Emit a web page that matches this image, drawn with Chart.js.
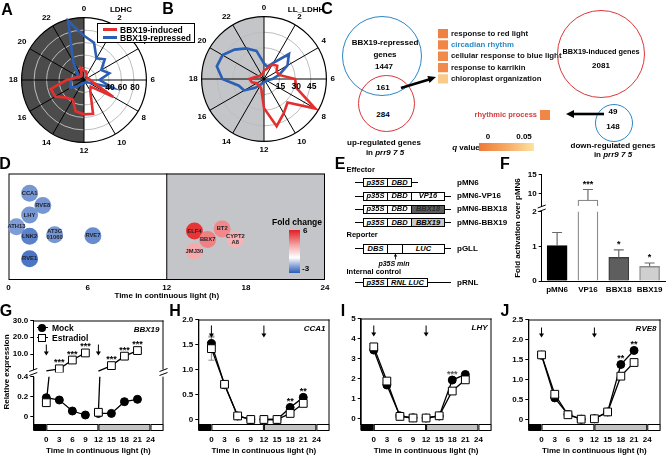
<!DOCTYPE html>
<html>
<head>
<meta charset="utf-8">
<script src="https://cdn.jsdelivr.net/npm/chart.js@4.4.1/dist/chart.umd.min.js"></script>
<style>
  body { margin: 0; background: #fff; }
  #fig { position: relative; width: 667px; height: 456px; overflow: hidden; font-family: "Liberation Sans", Arial, sans-serif; font-weight: bold; color: #000; }
  #fig canvas { position: absolute; }
  .t { position: absolute; transform: translate(-50%, -50%); white-space: nowrap; font-size: 8px; line-height: 1; }
  .l { position: absolute; transform: translateY(-50%); white-space: nowrap; font-size: 8px; line-height: 1; }
  .r { position: absolute; transform: translate(-100%, -50%); white-space: nowrap; font-size: 8px; line-height: 1; z-index: 5; }
  .big { font-size: 16px; }
  .ring { position: absolute; border-radius: 50%; box-sizing: border-box; border: 1.5px solid; }
  .ln { position: absolute; height: 0; border-top: 1px solid #000; }
  .bx { position: absolute; box-sizing: border-box; border: 1px solid #000; background: #fff; font-style: italic; font-size: 7.5px; display: flex; align-items: center; justify-content: center; line-height: 1; }
  .it { font-style: italic; }
</style>
</head>
<body>
<div id="fig">
  <!-- charts -->
  <canvas id="radarA" width="159" height="152" style="left:3px;top:4px"></canvas>
  <canvas id="radarB" width="158" height="152" style="left:183px;top:3px"></canvas>
  <canvas id="goChart" width="231" height="60" style="left:436px;top:26px"></canvas>
  <canvas id="rhythmChart" width="82" height="18" style="left:470px;top:106px"></canvas>
  <canvas id="dChart" width="335" height="136" style="left:0;top:165px"></canvas>
  <canvas id="fHigh" width="162" height="44" style="left:505px;top:168px"></canvas>
  <canvas id="fLow" width="162" height="95" style="left:505px;top:205px"></canvas>
  <canvas id="gLow" width="170" height="86" style="left:0;top:370px"></canvas>
  <canvas id="gHigh" width="170" height="62" style="left:0;top:314px"></canvas>
  <canvas id="hChart" width="168" height="143" style="left:168px;top:313px"></canvas>
  <canvas id="iChart" width="162" height="144" style="left:336px;top:312px"></canvas>
  <canvas id="jChart" width="167" height="143" style="left:500px;top:313px"></canvas>

  <!-- panel letters -->
  <div class="t big" style="left:7px;top:10px">A</div>
  <div class="t big" style="left:168px;top:9px">B</div>
  <div class="t big" style="left:327px;top:9px">C</div>
  <div class="t big" style="left:5px;top:164px">D</div>
  <div class="t big" style="left:340px;top:164px">E</div>
  <div class="t big" style="left:505px;top:164px">F</div>
  <div class="t big" style="left:6px;top:311px">G</div>
  <div class="t big" style="left:175px;top:311px">H</div>
  <div class="t big" style="left:343px;top:311px">I</div>
  <div class="t big" style="left:505px;top:311px">J</div>

  <!-- A / B -->
  <div class="t" style="left:121px;top:10px">LDHC</div>
  <div class="t" style="left:306px;top:10px">LL_LDHH</div>
  <div style="position:absolute;left:97px;top:23px;width:98px;height:20px;border:1px solid #000;background:#fff;box-sizing:border-box"></div>
  <div style="position:absolute;left:103px;top:28px;width:14px;height:3px;background:#e3302f"></div>
  <div class="l" style="left:120px;top:29.5px;font-size:8.5px">BBX19-induced</div>
  <div style="position:absolute;left:103px;top:36px;width:14px;height:3px;background:#2b5fb3"></div>
  <div class="l" style="left:120px;top:37.5px;font-size:8.5px">BBX19-repressed</div>

  <!-- C -->
  <div class="ring" style="left:342px;top:16px;width:80px;height:80px;border-color:#2b87c4"></div>
  <div class="ring" style="left:357.5px;top:74.5px;width:57px;height:57px;border-color:#d8373a"></div>
  <div class="ring" style="left:557px;top:10px;width:88px;height:88px;border-color:#d8373a"></div>
  <div class="ring" style="left:595px;top:104px;width:38px;height:38px;border-color:#2b87c4"></div>
  <div class="t" style="left:385px;top:43px">BBX19-repressed</div>
  <div class="t" style="left:385px;top:55px">genes</div>
  <div class="t" style="left:384px;top:66.5px">1447</div>
  <div class="t" style="left:383px;top:88px">161</div>
  <div class="t" style="left:383px;top:115px">284</div>
  <div class="t" style="left:384px;top:143px">up-regulated genes</div>
  <div class="t" style="left:385px;top:153px">in <span class="it">prr9 7 5</span></div>
  <div class="t" style="left:601px;top:52px;font-size:7.3px">BBX19-induced genes</div>
  <div class="t" style="left:601px;top:66px">2081</div>
  <div class="t" style="left:613px;top:112px">49</div>
  <div class="t" style="left:613px;top:127px">148</div>
  <div class="t" style="left:613px;top:145.5px">down-regulated genes</div>
  <div class="t" style="left:613px;top:155px">in <span class="it">prr9 7 5</span></div>
  <div class="t" style="left:488px;top:137px">0</div>
  <div class="t" style="left:524px;top:137px">0.05</div>
  <div class="t" style="left:466px;top:147.5px"><span class="it">q</span> value</div>
  <div style="position:absolute;left:479px;top:143px;width:55px;height:8px;background:linear-gradient(to right,#ee7a3a,#f6aa62,#fde3a2)"></div>
  <svg style="position:absolute;left:0;top:0" width="667" height="456">
    <line x1="401" y1="88" x2="429" y2="79.5" stroke="#000" stroke-width="2.6"/>
    <polygon points="436,77 429.4,82.9 427.4,75.9" fill="#000"/>
    <line x1="604" y1="114" x2="573" y2="114" stroke="#000" stroke-width="2.6"/>
    <polygon points="566,114 574,110 574,118" fill="#000"/>
    <line x1="395.5" y1="255" x2="395.5" y2="259.5" stroke="#000" stroke-width="0.8"/>
    <polygon points="395.5,253.5 393.8,256.5 397.2,256.5" fill="#000"/>
  </svg>

  <!-- D legend -->
  <div class="t" style="left:297px;top:222px;font-size:8.5px">Fold change</div>
  <div style="position:absolute;left:289px;top:230px;width:11px;height:43px;background:linear-gradient(to bottom,#e41d24 0%,#f4a3a5 35%,#ffffff 64%,#9db4de 80%,#2a5cb8 100%)"></div>
  <div class="l" style="left:303px;top:231px">6</div>
  <div class="l" style="left:302px;top:269px">-3</div>

  <!-- E -->
  <div class="l" style="left:346.5px;top:170px;font-size:7.5px">Effector</div>
  <div class="ln" style="left:354.5px;top:182px;width:63px"></div>
  <div class="bx" style="left:363px;top:178px;width:25px;height:9px">p35S</div>
  <div class="bx" style="left:387px;top:178px;width:25px;height:9px">DBD</div>
  <div class="l" style="left:457px;top:182.5px">pMN6</div>

  <div class="ln" style="left:354.5px;top:195.5px;width:96px"></div>
  <div class="bx" style="left:363px;top:191.5px;width:25px;height:9px">p35S</div>
  <div class="bx" style="left:387px;top:191.5px;width:25px;height:9px">DBD</div>
  <div class="bx" style="left:411px;top:191.5px;width:34px;height:9px">VP16</div>
  <div class="l" style="left:457px;top:196px">pMN6-VP16</div>

  <div class="ln" style="left:354.5px;top:208.5px;width:96px"></div>
  <div class="bx" style="left:363px;top:204.5px;width:25px;height:9px">p35S</div>
  <div class="bx" style="left:387px;top:204.5px;width:25px;height:9px">DBD</div>
  <div class="bx" style="left:411px;top:204.5px;width:34px;height:9px;background:#5b5b5b;color:#2a2a2a">BBX18</div>
  <div class="l" style="left:457px;top:209px">pMN6-BBX18</div>

  <div class="ln" style="left:354.5px;top:222px;width:96px"></div>
  <div class="bx" style="left:363px;top:218px;width:25px;height:9px">p35S</div>
  <div class="bx" style="left:387px;top:218px;width:25px;height:9px">DBD</div>
  <div class="bx" style="left:411px;top:218px;width:34px;height:9px;background:#c9c9c9">BBX19</div>
  <div class="l" style="left:457px;top:222.5px">pMN6-BBX19</div>

  <div class="l" style="left:346.5px;top:235px;font-size:7.5px">Reporter</div>
  <div class="ln" style="left:354.5px;top:248px;width:96px"></div>
  <div class="bx" style="left:363px;top:243.5px;width:25px;height:10px">DBS</div>
  <div class="bx" style="left:387px;top:243.5px;width:16px;height:10px"></div>
  <div class="bx" style="left:402px;top:243.5px;width:43px;height:10px">LUC</div>
  <div class="l" style="left:457px;top:248.5px">pGLL</div>
  <div class="t it" style="left:394px;top:263px;font-size:7px">p35S min</div>

  <div class="l" style="left:346.5px;top:272px;font-size:7.5px">Internal control</div>
  <div class="ln" style="left:354.5px;top:282px;width:96px"></div>
  <div class="bx" style="left:363px;top:278px;width:25px;height:9px">p35S</div>
  <div class="bx" style="left:387px;top:278px;width:41px;height:9px">RNL LUC</div>
  <div class="l" style="left:457px;top:282.5px">pRNL</div>

  <!-- F -->
  <div class="t" style="left:518px;top:228px;transform:translate(-50%,-50%) rotate(-90deg)">Fold activation over pMN6</div>

  <!-- G legend / label -->
  <div class="t" style="left:7px;top:372px;transform:translate(-50%,-50%) rotate(-90deg)">Relative expression</div>
  <div class="ln" style="left:36.5px;top:327px;width:11px"></div>
  <div style="position:absolute;left:38px;top:323.5px;width:8px;height:8px;border-radius:50%;background:#000"></div>
  <div class="l" style="left:52px;top:327.5px;font-size:8.5px">Mock</div>
  <div class="ln" style="left:36.5px;top:337px;width:11px"></div>
  <div style="position:absolute;left:38px;top:333.5px;width:8px;height:8px;background:#fff;border:1px solid #000;box-sizing:border-box"></div>
  <div class="l" style="left:52px;top:337.5px;font-size:8.5px">Estradiol</div>
</div>

<script>
// ---------- data ----------
// A, B: phase distribution (hour of day)
const hourLabels = ['0','1','2','3','4','5','6','7','8','9','10','11','12','13','14','15','16','17','18','19','20','21','22','23'];
const nightHours = [12, 24];
const ldhcInduced   = [15, 14, 8, 6, 6, 8, 10, 15, 54, 15, 20, 56, 55, 52, 36, 40, 53, 55, 28, 14, 10, 8, 8, 20];
const ldhcRepressed = [71, 62, 40, 47, 32, 42, 25, 48, 8, 5, 5, 5, 5, 5, 8, 15, 25, 22, 22, 15, 12, 15, 35, 98];
const llInduced     = [8, 10, 16, 18, 14, 15, 30, 32, 57, 32, 38, 47, 28, 10, 8, 8, 8, 12, 14, 8, 5, 5, 5, 5];
const llRepressed   = [15, 12, 18, 34, 26, 15, 8, 4, 3, 3, 3, 3, 3, 4, 6, 12, 22, 25, 40, 47, 46, 40, 34, 28];
const ldhcRings = [40, 60, 80];
const llRings = [15, 30, 45];

// C: GO enrichment
const goTerms = ['response to red light', 'circadian rhythm', 'cellular response to blue light', 'response to karrikin', 'chloroplast organization'];
const goQ = [0.004, 0.006, 0.007, 0.008, 0.038];
const goCell = [1, 1, 1, 1, 1];
const rhythmTerm = ['rhythmic process'];
const rhythmQ = [0.006];
const rhythmCell = [1];

// D: genes by peak time
const fcGenes = ['CCA1', 'RVE8', 'LHY', 'ATH13', 'LNK2', 'AT3G\n01060', 'RVE7', 'RVE1', 'ELF4', 'BT2', 'BBX7', 'CYPT2\nA8', 'JMJ30'];
const fcTime  = [1.6, 2.6, 1.6, 0.6, 1.6, 3.5, 6.4, 1.6, 14.1, 16.2, 15.1, 17.2, 14.1];
const fcLevel = [81.5, 70, 61, 50, 41, 42.5, 41.5, 20, 46, 48, 38, 38, 27];
const fcFold  = [-1.9, -1.9, -1.9, -1.8, -2.3, -1.9, -2.1, -2.5, 5.3, 3.1, 3.3, 2.0, 2.2];
const dTicks = [0, 6, 12, 18, 24];
const dShade = [12, 24];

// F: transactivation
const constructs = ['pMN6', 'VP16', 'BBX18', 'BBX19'];
const foldAct = [1.02, 8.2, 0.68, 0.42];
const foldErr = [0.38, 2.8, 0.22, 0.1];
const foldStars = ['', '***', '*', '*'];
const fLowTicks = [0, 1, 2];
const fLowLabels = ['0', '1', '2'];
const fHighTicks = [10, 15];
const fHighLabels = ['10', '15'];

// G-J: time courses (two 9-h runs, after each treatment at 0 h and 12 h)
const timePoints = [0, 3, 6, 9, 12, 15, 18, 21];
const runBreakAfter = 3;                 // no line between 9 h and 12 h
const timeTicks = [0, 3, 6, 9, 12, 15, 18, 21, 24];
const ldSpans = [-3, 0, 12, 24, 27];
const ldShades = ['#000', '#fff', '#c4c4c4', '#fff'];
const treatTimes = [0, 12];

const bbx19Mock = [0.19, 0.167, 0.057, 0.017, 0.033, 0.033, 0.15, 0.174];
const bbx19Estr = [0.14, 1.4, 6.6, 10.8, 0.044, 3.3, 8.9, 12.2];
const bbx19MockErr = [0.02, 0.01, 0.01, 0.005, 0.005, 0.005, 0.01, 0.01];
const bbx19EstrErr = [0.02, 0.2, 0.4, 0.5, 0.005, 0.3, 0.4, 0.5];
const bbx19Stars = ['', '***', '***', '***', '', '***', '***', '***'];
const bbx19HighTicks = [10, 20, 30];
const bbx19HighLabels = ['10.0', '20.0', '30.0'];
const bbx19LowTicks = [0, 0.2, 0.4];
const bbx19LowLabels = ['0', '0.2', '0.4'];

const cca1Mock = [1.52, 0.70, 0.08, 0.01, 0.01, 0.01, 0.25, 0.45];
const cca1Estr = [1.42, 0.71, 0.08, 0.01, 0.01, 0.01, 0.13, 0.33];
const cca1MockErr = [0.15, 0.03, 0.01, 0, 0, 0, 0.02, 0.03];
const cca1EstrErr = [0.23, 0.03, 0.01, 0, 0, 0, 0.02, 0.03];
const cca1Stars = ['', '', '', '', '', '', '**', '**'];
const cca1Ticks = [0, 0.5, 1, 1.5, 2];
const cca1Labels = ['0', '0.5', '1.0', '1.5', '2.0'];

const lhyMock = [3.42, 1.67, 0.13, 0.03, 0.02, 0.12, 1.92, 2.2];
const lhyEstr = [3.58, 1.87, 0.10, 0.02, 0.02, 0.13, 1.37, 1.93];
const lhyMockErr = [0.1, 0.06, 0.02, 0, 0, 0.02, 0.06, 0.06];
const lhyEstrErr = [0.15, 0.06, 0.02, 0, 0, 0.02, 0.06, 0.06];
const lhyStars = ['', '', '', '', '', '', '***', ''];
const lhyTicks = [0, 1, 2, 3, 4, 5];
const lhyLabels = ['0', '1', '2', '3', '4', '5'];

const rve8Mock = [1.61, 0.55, 0.14, 0.02, 0.03, 0.2, 1.38, 1.73];
const rve8Estr = [1.62, 0.64, 0.13, 0.02, 0.03, 0.2, 1.09, 1.43];
const rve8MockErr = [0.04, 0.03, 0.01, 0, 0, 0.02, 0.04, 0.04];
const rve8EstrErr = [0.04, 0.03, 0.01, 0, 0, 0.02, 0.04, 0.04];
const rve8Stars = ['', '', '', '', '', '', '**', '**'];
const rve8Ticks = [0, 0.5, 1, 1.5, 2, 2.5];
const rve8Labels = ['0', '0.5', '1.0', '1.5', '2.0', '2.5'];

// ---------- setup ----------
const FONT = '"Liberation Sans", Arial, sans-serif';
const f = (size, style) => ({ family: FONT, size: size, weight: 'bold', style: style || 'normal' });
Chart.defaults.font.family = FONT;
Chart.defaults.font.weight = 'bold';
Chart.defaults.color = '#000';
Chart.defaults.animation = false;
Chart.defaults.responsive = false;
Chart.defaults.plugins.legend.display = false;
Chart.defaults.plugins.tooltip.enabled = false;
const el = id => document.getElementById(id);

// fixed axis sizes, no extra room for overhanging tick labels
const fixY = w => s => { s.width = w; s.paddingTop = 0; s.paddingBottom = 0; };
const fixX = h => s => { if (h !== null) s.height = h; s.paddingLeft = 0; s.paddingRight = 0; };

function mix(c1, c2, t) {
  const r = Math.round(c1[0] + (c2[0] - c1[0]) * t);
  const g = Math.round(c1[1] + (c2[1] - c1[1]) * t);
  const b = Math.round(c1[2] + (c2[2] - c1[2]) * t);
  return 'rgb(' + r + ',' + g + ',' + b + ')';
}
const qColor = q => mix([238, 122, 58], [253, 227, 162], Math.min(q / 0.05, 1));
const foldColor = v => v < 0 ? mix([255, 255, 255], [40, 90, 185], Math.min(-v / 3, 1))
                             : mix([255, 255, 255], [228, 26, 28], Math.min(v / 6, 1));

// ---------- A / B radar ----------
function radarDeco(shade, rings) {
  return {
    id: 'radarDeco',
    beforeDraw(chart) {
      const s = chart.scales.r, ctx = chart.ctx;
      const a0 = -Math.PI / 2 + nightHours[0] / 24 * 2 * Math.PI;
      const a1 = -Math.PI / 2 + nightHours[1] / 24 * 2 * Math.PI;
      ctx.save();
      ctx.fillStyle = shade;
      ctx.beginPath();
      ctx.moveTo(s.xCenter, s.yCenter);
      ctx.arc(s.xCenter, s.yCenter, s.drawingArea, a0, a1);
      ctx.closePath();
      ctx.fill();
      ctx.restore();
    },
    afterDraw(chart) {
      const s = chart.scales.r, ctx = chart.ctx;
      ctx.save();
      ctx.font = 'bold 8.5px ' + FONT;
      ctx.fillStyle = '#000';
      ctx.textAlign = 'center';
      ctx.textBaseline = 'middle';
      rings.forEach(v => ctx.fillText(String(v), s.xCenter + s.getDistanceFromCenterForValue(v) + 1, s.yCenter + 8));
      ctx.restore();
    }
  };
}

function makeRadar(id, induced, repressed, rMax, rStep, rings, shade) {
  new Chart(el(id), {
    type: 'radar',
    data: {
      labels: hourLabels,
      datasets: [
        { label: 'BBX19-induced', data: induced, borderColor: '#e3302f', borderWidth: 2.6, pointRadius: 0, fill: false },
        { label: 'BBX19-repressed', data: repressed, borderColor: '#2b5fb3', borderWidth: 2.6, pointRadius: 0, fill: false }
      ]
    },
    options: {
      layout: { padding: 0 },
      scales: {
        r: {
          min: 0, max: rMax,
          ticks: { display: false, stepSize: rStep },
          grid: { circular: true, color: c => c.tick.value === rMax ? '#000' : '#bdbdbd', lineWidth: c => c.tick.value === rMax ? 1.2 : 1 },
          angleLines: { color: c => c.index % 2 === 0 ? '#000' : 'rgba(0,0,0,0)', lineWidth: 1 },
          pointLabels: { font: f(8), color: '#000', padding: 4, callback: (lab, i) => i % 2 === 0 ? lab : '' }
        }
      }
    },
    plugins: [radarDeco(shade, rings)]
  });
}
makeRadar('radarA', ldhcInduced, ldhcRepressed, 100, 20, ldhcRings, '#4b4b4b');
makeRadar('radarB', llInduced, llRepressed, 60, 15, llRings, '#c3c5c9');

// ---------- C: GO cells ----------
new Chart(el('goChart'), {
  type: 'bar',
  data: { labels: goTerms, datasets: [{ data: goCell, backgroundColor: goQ.map(qColor), barPercentage: 0.82, categoryPercentage: 1 }] },
  options: {
    indexAxis: 'y',
    layout: { padding: { left: 2, top: 2, bottom: 1.5, right: 0 } },
    scales: {
      x: { display: false, min: 0, max: 1 },
      y: {
        position: 'right',
        afterFit: fixY(219),
        grid: { display: false, drawTicks: false },
        border: { display: false },
        ticks: { font: f(7.8), padding: 3, autoSkip: false, color: c => c.index === 1 ? '#2c8bc7' : '#111' }
      }
    }
  }
});

new Chart(el('rhythmChart'), {
  type: 'bar',
  data: { labels: rhythmTerm, datasets: [{ data: rhythmCell, backgroundColor: rhythmQ.map(qColor), barPercentage: 1, categoryPercentage: 1 }] },
  options: {
    indexAxis: 'y',
    layout: { padding: { left: 0, top: 4, bottom: 4, right: 2 } },
    scales: {
      x: { display: false, min: 0, max: 1 },
      y: {
        afterFit: fixY(70),
        grid: { display: false, drawTicks: false },
        border: { display: false },
        ticks: { font: f(7.5), padding: 3, color: '#d6393b' }
      }
    }
  }
});

// ---------- D: bubbles ----------
const dDeco = {
  id: 'dDeco',
  beforeDatasetsDraw(chart) {
    const { ctx, chartArea: a, scales: { x } } = chart;
    const x0 = x.getPixelForValue(dShade[0]), x1 = x.getPixelForValue(dShade[1]);
    ctx.save();
    ctx.fillStyle = '#c3c5c8';
    ctx.fillRect(x0, a.top, x1 - x0, a.bottom - a.top);
    ctx.strokeStyle = '#000';
    ctx.lineWidth = 1;
    ctx.strokeRect(a.left + 0.5, a.top + 0.5, a.width - 1, a.height - 1);
    ctx.beginPath(); ctx.moveTo(x0, a.top); ctx.lineTo(x0, a.bottom); ctx.stroke();
    ctx.restore();
  },
  afterDatasetsDraw(chart) {
    const ctx = chart.ctx, meta = chart.getDatasetMeta(0);
    ctx.save();
    ctx.font = 'bold 5.8px ' + FONT;
    ctx.fillStyle = '#1e1e2a';
    ctx.textAlign = 'center';
    ctx.textBaseline = 'middle';
    meta.data.forEach((pt, i) => {
      const lines = fcGenes[i].split('\n');
      lines.forEach((s, k) => ctx.fillText(s, pt.x, pt.y + (k - (lines.length - 1) / 2) * 6));
    });
    ctx.restore();
  }
};
new Chart(el('dChart'), {
  type: 'bubble',
  data: { datasets: [{ data: fcGenes.map((g, i) => ({ x: fcTime[i], y: fcLevel[i], r: 8.5 })), backgroundColor: fcFold.map(foldColor), borderWidth: 0, clip: false }] },
  options: {
    layout: { padding: { top: 6.7, left: 8.5, right: 10, bottom: 0 } },
    scales: {
      x: {
        type: 'linear', min: 0, max: 24,
        afterBuildTicks: s => { s.ticks = dTicks.map(v => ({ value: v })); },
        afterFit: fixX(21),
        grid: { display: false, drawTicks: false },
        border: { display: false },
        ticks: { font: f(8), padding: 3 },
        title: { display: true, text: 'Time in continuous light (h)', font: f(8), padding: 0 }
      },
      y: { display: false, min: 0, max: 100 }
    }
  },
  plugins: [dDeco]
});

// ---------- F: broken-axis bars ----------
function fDeco(brk) {
  return {
    id: 'fDeco',
    afterDatasetsDraw(chart) {
      const { ctx, chartArea: a, scales: { x, y } } = chart;
      ctx.save();
      ctx.beginPath(); ctx.rect(a.left, a.top - 1, a.width, a.height + 1); ctx.clip();
      ctx.strokeStyle = '#6a6a6a'; ctx.lineWidth = 1.2;
      foldAct.forEach((v, i) => {
        const px = x.getPixelForValue(i), y0 = y.getPixelForValue(v), y1 = y.getPixelForValue(v + foldErr[i]);
        ctx.beginPath();
        ctx.moveTo(px, y0); ctx.lineTo(px, y1);
        ctx.moveTo(px - 5, y1); ctx.lineTo(px + 5, y1);
        ctx.stroke();
      });
      ctx.restore();
      ctx.save();
      ctx.font = 'bold 9px ' + FONT; ctx.fillStyle = '#000'; ctx.textAlign = 'center'; ctx.textBaseline = 'middle';
      foldAct.forEach((v, i) => {
        const top = v + foldErr[i];
        if (foldStars[i] && top >= y.min && top <= y.max) ctx.fillText(foldStars[i], x.getPixelForValue(i), y.getPixelForValue(top) - 5);
      });
      if (brk) {
        ctx.strokeStyle = '#000'; ctx.lineWidth = 1;
        ctx.beginPath();
        ctx.moveTo(a.left - 4, a.bottom + 2); ctx.lineTo(a.left + 4, a.bottom - 1);
        ctx.moveTo(a.left - 4, a.bottom + 6); ctx.lineTo(a.left + 4, a.bottom + 3);
        ctx.stroke();
      }
      ctx.restore();
    }
  };
}
function fChart(id, yMin, yMax, ticks, labels, showX, pad, brk) {
  new Chart(el(id), {
    type: 'bar',
    data: {
      labels: constructs,
      datasets: [{
        data: foldAct,
        backgroundColor: ['#000', '#fff', '#5e5e5e', '#cfcfcf'],
        borderColor: ['#000', '#8a8a8a', '#3c3c3c', '#8a8a8a'],
        borderWidth: 1.3, borderSkipped: 'bottom', barThickness: 20, clip: 0
      }]
    },
    options: {
      layout: { padding: pad },
      scales: {
        x: {
          display: showX,
          afterFit: fixX(showX ? 19 : null),
          grid: { display: false, drawTicks: false },
          border: { display: true, color: '#000' },
          ticks: { font: f(8), padding: 4, autoSkip: false, minRotation: 0, maxRotation: 0 }
        },
        y: {
          min: yMin, max: yMax,
          afterBuildTicks: s => { s.ticks = ticks.map(v => ({ value: v })); },
          afterFit: fixY(36.7),
          grid: { drawOnChartArea: false, color: '#000', tickLength: 3 },
          border: { display: true, color: '#000' },
          ticks: { font: f(8), padding: 2, callback: (v, i) => labels[i] }
        }
      }
    },
    plugins: [fDeco(brk)]
  });
}
fChart('fHigh', 6.66, 15, fHighTicks, fHighLabels, false, { top: 6.3, bottom: 6, left: 0, right: 2 }, true);
fChart('fLow', 0, 2, fLowTicks, fLowLabels, true, { top: 6.7, bottom: 0, left: 0, right: 2 }, false);

// ---------- G-J: time courses ----------
function exprDeco(o) {
  return {
    id: 'exprDeco',
    beforeDatasetsDraw(chart) {
      const { ctx, chartArea: a, scales: { x, y } } = chart;
      ctx.save();
      ctx.beginPath(); ctx.rect(a.left, a.top, a.width, a.height); ctx.clip();
      ctx.strokeStyle = '#888'; ctx.lineWidth = 1;
      [[o.mock, o.mockErr], [o.estr, o.estrErr]].forEach(pair => {
        pair[0].forEach((v, i) => {
          const e = pair[1][i];
          if (!e) return;
          const px = x.getPixelForValue(timePoints[i]);
          const y0 = y.getPixelForValue(v - e), y1 = y.getPixelForValue(v + e);
          ctx.beginPath();
          ctx.moveTo(px, y0); ctx.lineTo(px, y1);
          ctx.moveTo(px - 3, y0); ctx.lineTo(px + 3, y0);
          ctx.moveTo(px - 3, y1); ctx.lineTo(px + 3, y1);
          ctx.stroke();
        });
      });
      ctx.restore();
    },
    afterDraw(chart) {
      const { ctx, chartArea: a, scales: { x, y } } = chart;
      ctx.save();
      ctx.strokeStyle = '#000'; ctx.lineWidth = 1;
      ctx.beginPath();
      if (o.top) { ctx.moveTo(a.left, a.top + 0.5); ctx.lineTo(a.right, a.top + 0.5); }
      ctx.moveTo(a.right - 0.5, a.top); ctx.lineTo(a.right - 0.5, a.bottom + (o.ld ? 6 : 0));
      ctx.stroke();
      if (o.ld) {
        for (let k = 0; k < ldShades.length; k++) {
          const x0 = x.getPixelForValue(ldSpans[k]), x1 = x.getPixelForValue(ldSpans[k + 1]);
          ctx.fillStyle = ldShades[k];
          ctx.fillRect(x0, a.bottom, x1 - x0, 6);
          ctx.strokeRect(x0 + 0.5, a.bottom + 0.5, x1 - x0 - 1, 6);
        }
        ctx.beginPath(); ctx.moveTo(a.left + 0.5, a.top); ctx.lineTo(a.left + 0.5, a.bottom + 6); ctx.stroke();
      }
      if (o.breaks) {
        ctx.beginPath();
        [a.left, a.right].forEach(bx => {
          ctx.moveTo(bx - 4, a.bottom + 2); ctx.lineTo(bx + 4, a.bottom - 1);
          ctx.moveTo(bx - 4, a.bottom + 6); ctx.lineTo(bx + 4, a.bottom + 3);
        });
        ctx.stroke();
      }
      if (o.arrowLen) {
        ctx.fillStyle = '#000';
        treatTimes.forEach(t => {
          const px = x.getPixelForValue(t), t0 = a.top + o.arrowTop, t1 = t0 + o.arrowLen;
          ctx.beginPath(); ctx.moveTo(px, t0); ctx.lineTo(px, t1 - 3); ctx.stroke();
          ctx.beginPath(); ctx.moveTo(px - 2.5, t1 - 4); ctx.lineTo(px + 2.5, t1 - 4); ctx.lineTo(px, t1); ctx.closePath(); ctx.fill();
        });
      }
      if (o.stars) {
        ctx.font = 'bold 9px ' + FONT; ctx.textAlign = 'center'; ctx.textBaseline = 'middle';
        ctx.fillStyle = o.starColor || '#000';
        o.stars.forEach((s, i) => {
          if (!s) return;
          const py = Math.min(y.getPixelForValue(o.mock[i]), y.getPixelForValue(o.estr[i])) - 6;
          if (py > a.top && py < a.bottom) ctx.fillText(s, x.getPixelForValue(timePoints[i]), py);
        });
      }
      if (o.gene) {
        ctx.font = 'italic bold 8px ' + FONT; ctx.textAlign = 'right'; ctx.textBaseline = 'middle'; ctx.fillStyle = '#000';
        ctx.fillText(o.gene, a.right - 4, a.top + 9);
      }
      ctx.restore();
    }
  };
}

function exprChart(id, o) {
  const pts = vals => timePoints.map((t, i) => ({ x: t, y: vals[i] }));
  // hide markers that fall outside this axis segment (broken axis in G)
  const radius = r => c => (c.raw && (c.raw.y < o.min || c.raw.y > o.max)) ? 0 : r;
  const runGap = { borderColor: c => c.p0DataIndex === runBreakAfter ? 'rgba(0,0,0,0)' : undefined };
  return new Chart(el(id), {
    type: 'line',
    data: {
      datasets: [
        { label: 'Mock', data: pts(o.mock), borderColor: '#000', backgroundColor: '#000', borderWidth: 1.3, segment: runGap,
          pointStyle: 'circle', pointRadius: radius(4), pointBorderWidth: 1, order: 2, clip: o.clipMock },
        { label: 'Estradiol', data: pts(o.estr), borderColor: '#000', backgroundColor: '#fff', borderWidth: 1.3, segment: runGap,
          pointStyle: 'rect', pointRadius: radius(5.5), pointBorderWidth: 1, order: 1, clip: o.clipEstr }
      ]
    },
    options: {
      layout: { padding: o.pad },
      scales: {
        x: {
          type: 'linear', min: -3, max: 27, display: o.showX,
          afterBuildTicks: s => { s.ticks = timeTicks.map(v => ({ value: v })); },
          afterFit: fixX(o.showX ? 32 : null),
          grid: { display: false, drawTicks: false },
          border: { display: false },
          ticks: { font: f(8), padding: 11, autoSkip: false, maxRotation: 0 },
          title: { display: true, text: 'Time in continuous light (h)', font: f(8), padding: 0 }
        },
        y: {
          min: o.min, max: o.max,
          afterBuildTicks: s => { s.ticks = o.ticks.map(v => ({ value: v })); },
          afterFit: fixY(o.yWidth),
          grid: { drawOnChartArea: false, color: '#000', tickLength: 3 },
          border: { display: true, color: '#000' },
          ticks: { display: !o.htmlTicks, font: f(8), padding: 2, autoSkip: false, callback: (v, i) => o.labels[i] }
        }
      }
    },
    plugins: [exprDeco(o)]
  });
}

// tick labels of G's broken axis, placed as page text from the chart's own y scale
function placeTickText(chart, ticks, labels) {
  const cv = chart.canvas, s = chart.scales.y, a = chart.chartArea;
  ticks.forEach((v, i) => {
    const d = document.createElement('div');
    d.className = 'r';
    d.textContent = labels[i];
    d.style.left = (cv.offsetLeft + a.left - 5) + 'px';
    d.style.top = (cv.offsetTop + s.getPixelForValue(v)) + 'px';
    el('fig').appendChild(d);
  });
}

const gLow = exprChart('gLow', { mock: bbx19Mock, estr: bbx19Estr, mockErr: bbx19MockErr, estrErr: bbx19EstrErr,
  min: -0.073, max: 0.4, ticks: bbx19LowTicks, labels: bbx19LowLabels, yWidth: 33.3, showX: true, htmlTicks: true,
  pad: { top: 6.7, bottom: 0, left: 0, right: 2 }, ld: true, clipMock: 0, clipEstr: 0 });
const gHigh = exprChart('gHigh', { mock: bbx19Mock, estr: bbx19Estr, mockErr: bbx19MockErr, estrErr: bbx19EstrErr,
  min: 1, max: 30, ticks: bbx19HighTicks, labels: bbx19HighLabels, yWidth: 33.3, showX: false, htmlTicks: true,
  pad: { top: 6, bottom: 4, left: 0, right: 2 }, top: true, breaks: true,
  clipMock: 0, clipEstr: { left: 0, right: 0, top: 0, bottom: 3 },
  arrowTop: 24, arrowLen: 11, stars: bbx19Stars, gene: 'BBX19' });
placeTickText(gLow, bbx19LowTicks, bbx19LowLabels);
placeTickText(gHigh, bbx19HighTicks, bbx19HighLabels);

exprChart('hChart', { mock: cca1Mock, estr: cca1Estr, mockErr: cca1MockErr, estrErr: cca1EstrErr,
  min: -0.08, max: 2, ticks: cca1Ticks, labels: cca1Labels, yWidth: 30.3, showX: true,
  pad: { top: 6, bottom: 0, left: 0, right: 2 }, top: true, ld: true,
  arrowTop: 6, arrowLen: 12, stars: cca1Stars, gene: 'CCA1' });
exprChart('iChart', { mock: lhyMock, estr: lhyEstr, mockErr: lhyMockErr, estrErr: lhyEstrErr,
  min: -0.28, max: 5, ticks: lhyTicks, labels: lhyLabels, yWidth: 24.7, showX: true,
  pad: { top: 6.3, bottom: 0, left: 0, right: 2.3 }, top: true, ld: true,
  arrowTop: 7, arrowLen: 11, stars: lhyStars, starColor: '#555', gene: 'LHY' });
exprChart('jChart', { mock: rve8Mock, estr: rve8Estr, mockErr: rve8MockErr, estrErr: rve8EstrErr,
  min: -0.1, max: 2.5, ticks: rve8Ticks, labels: rve8Labels, yWidth: 28.3, showX: true,
  pad: { top: 6, bottom: 0, left: 0, right: 2.7 }, top: true, ld: true,
  arrowTop: 8, arrowLen: 10, stars: rve8Stars, gene: 'RVE8' });
</script>
</body>
</html>
